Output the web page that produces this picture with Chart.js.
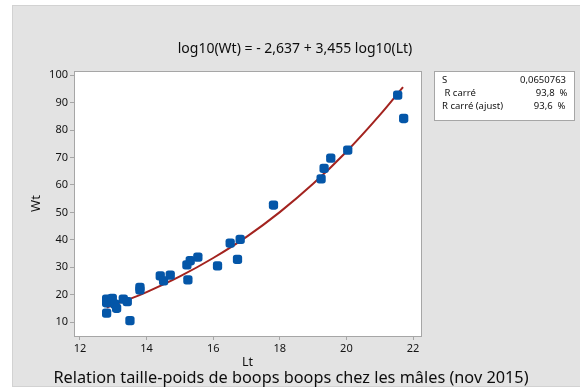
<!DOCTYPE html>
<html>
<head>
<meta charset="utf-8">
<script src="https://cdn.jsdelivr.net/npm/chart.js@4"></script>
<style>
  html, body { margin: 0; padding: 0; background: #ffffff; }
  #wrap { width: 580px; height: 390px; position: relative; }
</style>
</head>
<body>
<div id="wrap"><canvas id="c" width="580" height="390"></canvas></div>
<script>
// ---- data ----
const lengths = [12.80, 12.80, 12.80, 12.97, 13.05, 13.10, 13.30, 13.42, 13.50, 13.80, 13.80, 14.41, 14.51, 14.71, 15.21, 15.24, 15.31, 15.54, 16.13, 16.51, 16.73, 16.81, 17.81, 19.24, 19.33, 19.53, 20.04, 21.54, 21.72];
const weights = [18.4, 17.1, 13.3, 18.7, 16.6, 15.1, 18.4, 17.5, 10.6, 22.7, 21.8, 26.9, 25.1, 27.2, 30.9, 25.4, 32.4, 33.7, 30.5, 38.8, 32.9, 40.2, 52.7, 62.2, 66.0, 69.8, 72.7, 92.7, 84.2];

// fitted curve
const fitLengths = [12.8, 13.5, 14, 15, 16, 17, 18, 19, 20, 21, 21.7];
const fitWeights = [15.4, 18.5, 21.0, 26.7, 33.4, 41.1, 50.1, 60.4, 72.1, 85.4, 95.6];

const xTicks = [12, 14, 16, 18, 20, 22];
const yTicks = [10, 20, 30, 40, 50, 60, 70, 80, 90, 100];

const titleText = "log10(Wt) = - 2,637 + 3,455 log10(Lt)";
const captionText = "Relation taille-poids de boops boops chez les mâles (nov 2015)";
const statLabels = ["S", " R carré", "R carré (ajust)"];
const statValues = ["0,0650763", "93,8  %", "93,6  %"];

const FONT = '"Noto Sans", "Open Sans", sans-serif';

const decor = {
  id: 'decor',
  beforeDraw(chart) {
    const ctx = chart.ctx, a = chart.chartArea;
    ctx.save();
    ctx.fillStyle = '#ffffff';
    ctx.fillRect(0, 0, chart.width, chart.height);
    ctx.fillStyle = '#e3e3e3';
    ctx.fillRect(12, 5, 568, 382);
    ctx.strokeStyle = '#d2d2d2';
    ctx.lineWidth = 1;
    ctx.strokeRect(12.5, 5.5, 568, 381);
    ctx.fillStyle = '#ffffff';
    ctx.fillRect(a.left, a.top, a.right - a.left, a.bottom - a.top);
    ctx.restore();
  },
  afterDraw(chart) {
    const ctx = chart.ctx, a = chart.chartArea;
    ctx.save();
    ctx.strokeStyle = '#a6a6a6';
    ctx.lineWidth = 1;
    ctx.strokeRect(Math.round(a.left) + 0.5, Math.round(a.top) + 0.5, Math.round(a.right - a.left), Math.round(a.bottom - a.top));
    // title
    ctx.fillStyle = '#0d0d0d';
    ctx.textAlign = 'center';
    ctx.textBaseline = 'middle';
    ctx.font = '14px ' + FONT;
    ctx.fillText(titleText, 295, 49);
    // caption
    ctx.font = '16.3px ' + FONT;
    ctx.fillText(captionText, 291, 378);
    // stat box
    ctx.fillStyle = '#ffffff';
    ctx.fillRect(434, 71, 140, 49);
    ctx.strokeStyle = '#a6a6a6';
    ctx.strokeRect(434.5, 71.5, 140, 49);
    ctx.fillStyle = '#111111';
    ctx.font = '9.5px ' + FONT;
    const rows = [80, 93.5, 106];
    ctx.textAlign = 'left';
    statLabels.forEach((t, i) => ctx.fillText(t, 442, rows[i]));
    ctx.textAlign = 'right';
    const rx = [566, 567.5, 565.5];
    statValues.forEach((t, i) => ctx.fillText(t, rx[i], rows[i]));
    ctx.restore();
  }
};

new Chart(document.getElementById('c'), {
  type: 'scatter',
  data: {
    datasets: [
      {
        label: 'Fit',
        type: 'line',
        data: fitLengths.map((x, i) => ({ x: x, y: fitWeights[i] })),
        borderColor: '#a3231f',
        borderWidth: 2,
        pointRadius: 0,
        tension: 0.4,
        cubicInterpolationMode: 'monotone',
        fill: false,
        order: 2
      },
      {
        label: 'Wt',
        data: lengths.map((x, i) => ({ x: x, y: weights[i] })),
        backgroundColor: '#0456a8',
        borderColor: '#0456a8',
        borderWidth: 0,
        pointStyle: 'rectRounded',
        pointRadius: 5.4,
        order: 1
      }
    ]
  },
  options: {
    responsive: false,
    animation: false,
    devicePixelRatio: 1,
    layout: { padding: { left: 24, top: 71, right: 159, bottom: 15 } },
    plugins: { legend: { display: false }, title: { display: false }, tooltip: { enabled: false } },
    scales: {
      x: {
        type: 'linear',
        min: 11.82, max: 22.24,
        afterBuildTicks: s => { s.ticks = xTicks.map(v => ({ value: v })); },
        afterFit: s => { s.height = 39; },
        grid: { display: true, drawOnChartArea: false, drawTicks: true, tickLength: 4, color: '#a6a6a6' },
        border: { display: false },
        ticks: { color: '#141414', font: { size: 11, family: FONT }, padding: 2, maxRotation: 0, autoSkip: false },
        title: { display: true, text: 'Lt', color: '#111111', font: { size: 12.5, family: FONT }, padding: { top: 4, bottom: 5 } }
      },
      y: {
        type: 'linear',
        min: 5, max: 101.5,
        afterBuildTicks: s => { s.ticks = yTicks.map(v => ({ value: v })); },
        afterFit: s => { s.width = 50; },
        grid: { display: true, drawOnChartArea: false, drawTicks: true, tickLength: 4, color: '#a6a6a6' },
        border: { display: false },
        ticks: { color: '#141414', font: { size: 11, family: FONT }, padding: 2, autoSkip: false },
        title: { display: true, text: 'Wt', color: '#111111', font: { size: 13, family: FONT }, padding: { top: 4, bottom: 4 } }
      }
    }
  },
  plugins: [decor]
});
</script>
</body>
</html>
